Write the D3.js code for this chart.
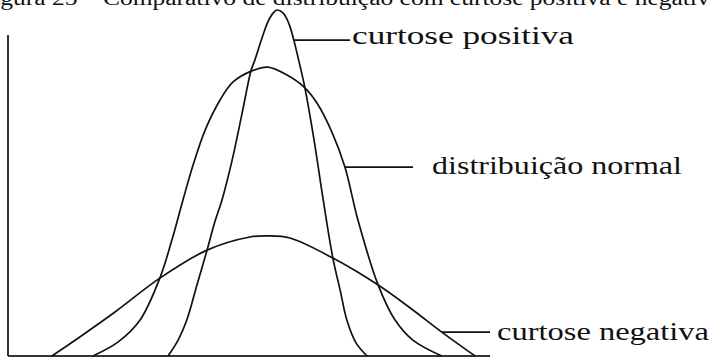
<!DOCTYPE html>
<html>
<head>
<meta charset="utf-8">
<script src="https://cdn.jsdelivr.net/npm/d3@7"></script>
<style>
  html, body { margin: 0; padding: 0; background: #fff; overflow: hidden; }
  svg { display: block; }
  text { font-family: "Liberation Serif", "Times New Roman", Times, serif; fill: #111; }
</style>
</head>
<body>
<svg id="chart" width="710" height="358"></svg>
<script>
// Three bell-shaped density curves on a shared horizontal axis (arbitrary units 0–100).
const titleText = "Figura 25 – Comparativo de distribuição com curtose positiva e negativa";
const seriesNames = ["curtose positiva", "distribuição normal", "curtose negativa"];

// curtose positiva (leptocúrtica)
const positiveX = [33.2, 35.3, 37.1, 39.2, 41.3, 42.9, 44.4, 46.5, 48.5, 50.4, 51.2, 52.7, 53.9, 55.0, 55.8,
                   57.1, 58.3, 59.3, 60.3, 61.6, 63.5, 65.4, 67.4, 68.9, 70.3, 72.2, 74.5];
const positiveY = [0, 4.6, 10.4, 20.5, 30.6, 38.7, 45.1, 56.6, 69.7, 82.4, 85.5, 91.9, 96.5, 99.1, 100,
                   99.1, 96.0, 91.3, 85.5, 77.5, 62.4, 45.1, 28.3, 19.1, 10.4, 3.8, 0];

// distribuição normal (mesocúrtica)
const normalX = [17.6, 22.8, 27.4, 31.5, 34.0, 36.3, 38.4, 40.9, 44.0, 46.7, 50.6, 53.9, 57.9, 61.6,
                 64.1, 67.2, 69.9, 72.6, 76.8, 80.3, 84.0, 90.0];
const normalY = [0, 4.0, 10.4, 22.5, 33.5, 45.1, 55.2, 65.3, 74.0, 79.2, 82.4, 83.5, 81.2, 77.5,
                 73.1, 64.7, 54.6, 39.3, 20.5, 10.4, 4.6, 0];

// curtose negativa (platicúrtica)
const negativeX = [9.1, 14.9, 22.2, 31.5, 41.3, 50.2, 53.9, 58.5, 67.4, 76.8, 84.0, 90.0, 96.9];
const negativeY = [0, 5.5, 12.7, 22.5, 30.6, 34.4, 34.7, 34.1, 28.3, 20.5, 13.3, 6.9, 0];

const svg = d3.select("#chart");

const x = d3.scaleLinear().domain([0, 100]).range([8, 490]);
const y = d3.scaleLinear().domain([0, 100]).range([356, 10]);

const zip = (xs, ys) => xs.map((v, i) => [v, ys[i]]);
const series = [zip(positiveX, positiveY), zip(normalX, normalY), zip(negativeX, negativeY)];

// caption line, partly cut off by the top edge
svg.append("text")
  .attr("x", -21).attr("y", 5)
  .attr("font-size", 20)
  .attr("textLength", 742).attr("lengthAdjust", "spacingAndGlyphs")
  .text(titleText);

// axes: bare vertical and horizontal rules, no ticks
svg.append("line")
  .attr("x1", x(0)).attr("x2", x(0))
  .attr("y1", 35).attr("y2", y(0))
  .attr("stroke", "#333").attr("stroke-width", 2);
svg.append("line")
  .attr("x1", x(0)).attr("x2", x(100))
  .attr("y1", y(0)).attr("y2", y(0))
  .attr("stroke", "#333").attr("stroke-width", 2);

const line = d3.line()
  .x(d => x(d[0])).y(d => y(d[1]))
  .curve(d3.curveCatmullRom.alpha(0.5));

svg.append("g").selectAll("path")
  .data(series)
  .join("path")
  .attr("d", line)
  .attr("fill", "none")
  .attr("stroke", "#111")
  .attr("stroke-width", 1.7)
  .attr("stroke-linejoin", "round");

// leader lines and labels: anchor point on each curve, then text to the right
const labels = [
  { name: seriesNames[0], ax: 59.3, ay: 91.3, lineEnd: 350, tx: 352, ty: 44, len: 222 },
  { name: seriesNames[1], ax: 69.9, ay: 54.6, lineEnd: 413, tx: 432, ty: 174, len: 250 },
  { name: seriesNames[2], ax: 90.0, ay: 6.9,  lineEnd: 490, tx: 497, ty: 340, len: 212 }
];

const lg = svg.append("g");
labels.forEach(l => {
  lg.append("line")
    .attr("x1", x(l.ax)).attr("x2", l.lineEnd)
    .attr("y1", y(l.ay)).attr("y2", y(l.ay))
    .attr("stroke", "#111").attr("stroke-width", 1.7);
  lg.append("text")
    .attr("x", l.tx).attr("y", l.ty)
    .attr("font-size", 26)
    .attr("textLength", l.len).attr("lengthAdjust", "spacingAndGlyphs")
    .text(l.name);
});
</script>
</body>
</html>
